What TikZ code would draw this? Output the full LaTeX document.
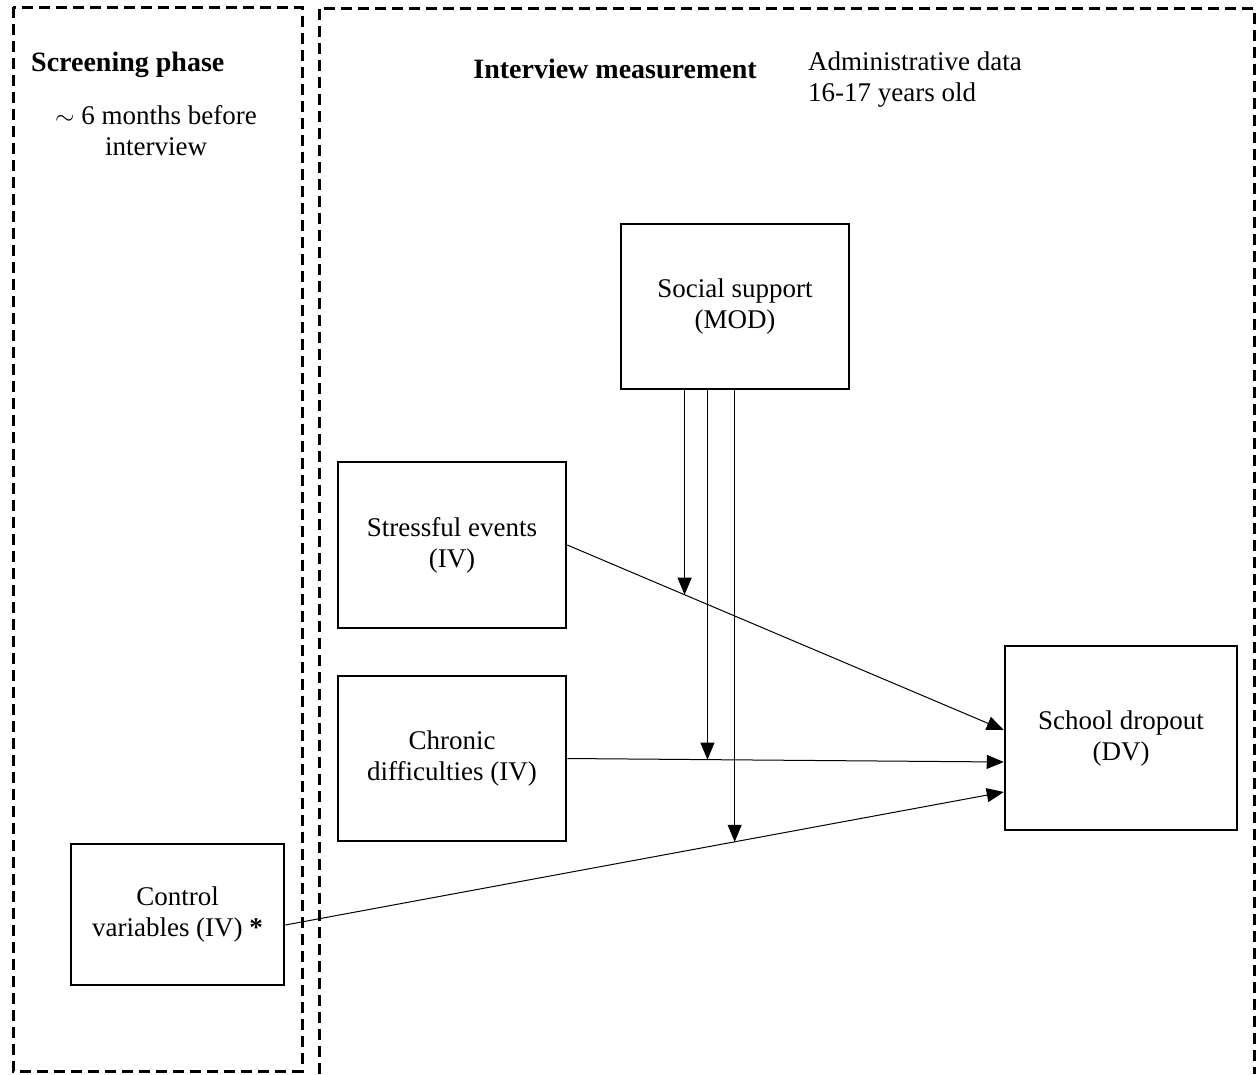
\documentclass[tikz,border=0pt]{standalone}
\usepackage{fontspec}
\setmainfont{Liberation Serif}
\usetikzlibrary{arrows.meta,calc}
\tikzset{
  txt/.style={font=\fontsize{27}{31}\selectfont, inner sep=0pt, align=center},
  hdr/.style={font=\fontsize{28}{31}\selectfont\bfseries, inner sep=0pt},
  varbox/.style={draw, line width=2.5pt, txt},
  frame/.style={line width=3pt, dash pattern=on 11pt off 6pt},
  link/.style={line width=1pt, -{Triangle[length=17pt,width=14pt]}},
}
\begin{document}
\begin{tikzpicture}[x=1pt,y=-1pt]
\useasboundingbox (0,0) rectangle (1257,1074);
\fill[white] (0,0) rectangle (1257,1074);
% frames
\draw[frame] (13,7) rectangle (302,1071);
\draw[frame] (319,1074) -- (319,8) -- (1254,8) -- (1254,1074);
% headings
\node[hdr, anchor=west] (screen) at (31,65) {Screening phase};
\node[txt] (months) at (156,131) {$\sim$ 6 months before\\interview};
\node[hdr] (interview) at (615,69) {Interview measurement};
\node[txt, anchor=west, align=left] (admin) at (808,80) {Administrative data\\16-17 years old};
% boxes
\node[varbox, minimum width=228pt, minimum height=165pt] (ss) at (735,306.5) {Social support\\(MOD)};
\node[varbox, minimum width=228pt, minimum height=166pt] (se) at (452,545) {Stressful events\\(IV)};
\node[varbox, minimum width=228pt, minimum height=165pt] (cd) at (452,758.5) {Chronic\\difficulties (IV)};
\node[varbox, minimum width=213pt, minimum height=141pt] (cv) at (177.5,914.5) {Control\\variables (IV) \textbf{*}};
\node[varbox, minimum width=232pt, minimum height=184pt] (sd) at (1121,738) {School dropout\\(DV)};
% main paths
\coordinate (sdA) at ($(sd.west)+(0,-8)$);
\coordinate (sdB) at ($(sd.west)+(0,24)$);
\coordinate (sdC) at ($(sd.west)+(0,54)$);
\coordinate (cvE) at ($(cv.east)+(0,10.5)$);
\draw[link] (se.east) -- (sdA);
\draw[link] (cd.east) -- (sdB);
\draw[link] (cvE) -- (sdC);
% moderation
\coordinate (m1) at ($(se.east)!0.2688!(sdA)$);
\coordinate (m2) at ($(cd.east)!0.3212!(sdB)$);
\coordinate (m3) at ($(cvE)!0.6255!(sdC)$);
\draw[link] (ss.south -| m1) -- (m1);
\draw[link] (ss.south -| m2) -- (m2);
\draw[link] (ss.south -| m3) -- (m3);
\end{tikzpicture}
\end{document}
